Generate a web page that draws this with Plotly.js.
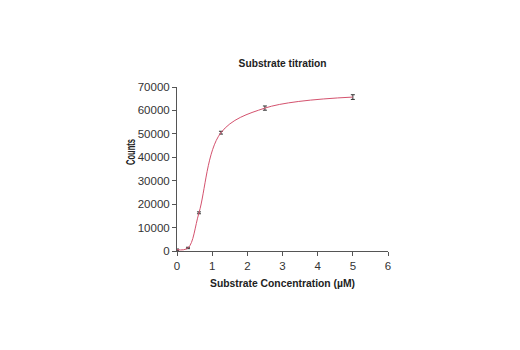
<!DOCTYPE html>
<html><head><meta charset="utf-8">
<script src="https://cdn.plot.ly/plotly-3.0.1.min.js"></script>
<style>body{margin:0;background:#fff}#c{width:520px;height:350px}</style>
</head><body><div id="c"></div>
<script>
const concentration = [0, 0.3125, 0.625, 1.25, 2.5, 5];
const counts = [550, 1300, 16300, 50500, 61000, 65700];
const countErr = [300, 300, 400, 600, 900, 1000];
const xTicks = [0, 1, 2, 3, 4, 5, 6];
const yTicks = [0, 10000, 20000, 30000, 40000, 50000, 60000, 70000];

const font = "'Liberation Sans', Arial, sans-serif";
const gd = document.getElementById('c');
Plotly.newPlot(gd, [{
  x: concentration, y: counts, type: 'scatter', mode: 'lines',
  line: {color: '#d4526e', width: 1, shape: 'spline', smoothing: 1},
  error_y: {type: 'data', array: countErr, visible: true, color: '#333', thickness: 1, width: 2},
  cliponaxis: false, hoverinfo: 'none'
}], {
  width: 520, height: 350,
  margin: {l: 177, r: 132, t: 87, b: 99},
  paper_bgcolor: '#fff', plot_bgcolor: '#fff',
  showlegend: false,
  title: {text: '<b>Substrate titration</b>', font: {family: font, size: 11.5, color: '#222'}, x: 0.5435, xanchor: 'center', y: 0.82, yanchor: 'middle'},
  xaxis: {range: [0, 6], tickvals: xTicks, ticktext: xTicks.map(String), showgrid: false, zeroline: false,
    showline: true, linecolor: '#555', linewidth: 1, ticks: 'outside', ticklen: 4, tickcolor: '#555',
    tickfont: {family: font, size: 11.5, color: '#333'},
    title: {text: '<b>Substrate Concentration (µM)</b>', font: {family: font, size: 11.5, color: '#222'}, standoff: 8}},
  yaxis: {range: [0, 70000], tickvals: yTicks, ticktext: yTicks.map(String), showgrid: false, zeroline: false,
    showline: true, linecolor: '#555', linewidth: 1, ticks: 'outside', ticklen: 4, tickcolor: '#555',
    tickfont: {family: font, size: 11.5, color: '#333'},
    title: {text: '<b>Counts</b>', font: {family: font, size: 12.5, color: '#222'}, standoff: 10}}
}, {displayModeBar: false, staticPlot: true}).then(() => {
  // condensed look of the original typeface
  const squeeze = (sel, len) => {
    const t = gd.querySelector(sel);
    if (!t) return;
    t.setAttribute('textLength', len);
    t.setAttribute('lengthAdjust', 'spacingAndGlyphs');
  };
  squeeze('.gtitle', 88);
  squeeze('.xtitle', 145);
  squeeze('.ytitle', 26);
  const yt = gd.querySelector('.ytitle');
  if (yt) {
    yt.setAttribute('x', 135);
    yt.setAttribute('y', 152);
    yt.setAttribute('transform', 'rotate(-90,135,152)');
  }
});
</script></body></html>
